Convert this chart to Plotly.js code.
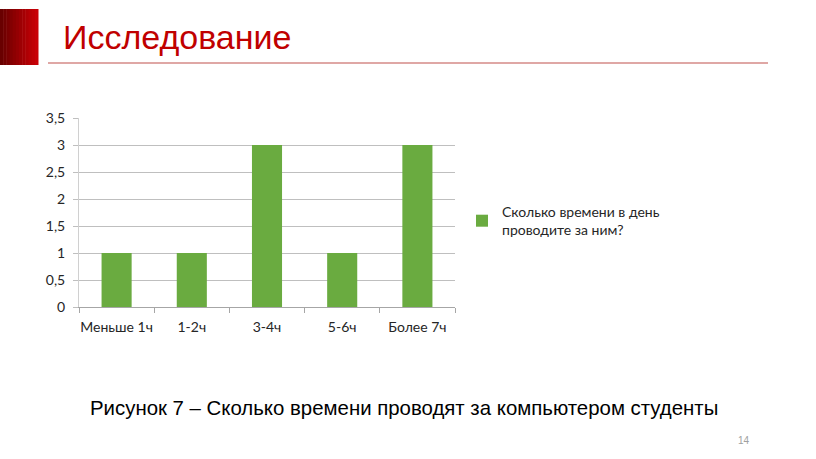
<!DOCTYPE html>
<html><head><meta charset="utf-8">
<script src="https://cdn.plot.ly/plotly-3.0.1.min.js"></script>
<style>html,body{margin:0;padding:0;background:#fff}#c{width:816px;height:459px}</style>
</head><body><div id="c"></div>
<script>
const categories = ["Меньше 1ч", "1-2ч", "3-4ч", "5-6ч", "Более 7ч"];
const values = [1, 1, 3, 1, 3];
const seriesName = "Сколько времени в день<br>проводите за ним?";
const yTicks = [0, 0.5, 1, 1.5, 2, 2.5, 3, 3.5];
const slideTitle = "Исследование";
const caption = "Рисунок 7 – Сколько времени проводят за компьютером студенты";
const pageNumber = "14";

const W = 816, H = 459;
const px = x => x / W;
const py = y => 1 - y / H;
const FONT = "Lato, Open Sans, sans-serif";

const shapes = [];
const n = 12;
for (let i = 0; i < n; i++) {
  const t = i / (n - 1);
  const r = Math.round(105 + t * (200 - 105));
  shapes.push({type: "rect", xref: "paper", yref: "paper",
    x0: px(38 * i / n), x1: px(38 * (i + 1) / n + 0.5), y0: py(65), y1: py(9),
    fillcolor: `rgb(${r},0,${Math.round(t*6)})`, line: {width: 0}, layer: "above"});
}
shapes.push({type: "line", xref: "paper", yref: "paper",
  x0: px(48), x1: px(768), y0: py(63), y1: py(63),
  line: {color: "#c0504d", width: 1.2}});

const data = [{
  type: "bar", x: categories, y: values, name: seriesName,
  marker: {color: "#6aab40", line: {width: 0}},
  width: 0.4, hoverinfo: "none"
}];

const layout = {
  width: W, height: H,
  margin: {l: 0, r: 0, t: 0, b: 0},
  paper_bgcolor: "#fff", plot_bgcolor: "#fff",
  separators: ", ",
  font: {family: FONT, size: 14, color: "#262626"},
  xaxis: {
    domain: [px(79), px(455)], automargin: false,
    type: "category", tickson: "boundaries", tickangle: 0,
    ticks: "outside", ticklen: 5, tickcolor: "#a6a6a6",
    showline: true, linecolor: "#a6a6a6", linewidth: 1,
    showgrid: false, ticklabelstandoff: 7,
    tickfont: {family: FONT, size: 14, color: "#262626"}
  },
  yaxis: {
    domain: [py(307), py(118)], automargin: false,
    range: [0, 3.5], tickvals: yTicks, ticktext: yTicks.map(v => String(v).replace(".", ",")),
    showgrid: true, gridcolor: "#bfbfbf", gridwidth: 1,
    zeroline: false, showline: true, linecolor: "#d0d0d0",
    ticks: "outside", ticklen: 5, tickcolor: "#bfbfbf", ticklabelstandoff: 5,
    tickfont: {family: FONT, size: 14, color: "#262626"}
  },
  showlegend: true,
  legend: {x: px(462), y: py(196), xanchor: "left", yanchor: "top",
    font: {family: FONT, size: 14, color: "#262626"},
    bgcolor: "rgba(0,0,0,0)", itemwidth: 30},
  shapes: shapes,
  annotations: [
    {xref: "paper", yref: "paper", x: px(61), y: py(37), xanchor: "left", yanchor: "middle",
     text: slideTitle, showarrow: false,
     font: {family: "Liberation Sans, Arial, sans-serif", size: 34, color: "#c00000"}},
    {xref: "paper", yref: "paper", x: px(403.5), y: py(408), xanchor: "center", yanchor: "middle",
     text: caption, showarrow: false,
     font: {family: "Liberation Sans, Arial, sans-serif", size: 20.4, color: "#000"}},
    {xref: "paper", yref: "paper", x: px(752), y: py(440), xanchor: "right", yanchor: "middle",
     text: pageNumber, showarrow: false,
     font: {family: "Liberation Sans, Arial, sans-serif", size: 10, color: "#a0a0a0"}}
  ]
};

Plotly.newPlot("c", data, layout, {staticPlot: true, displayModeBar: false});
</script>
</body></html>
